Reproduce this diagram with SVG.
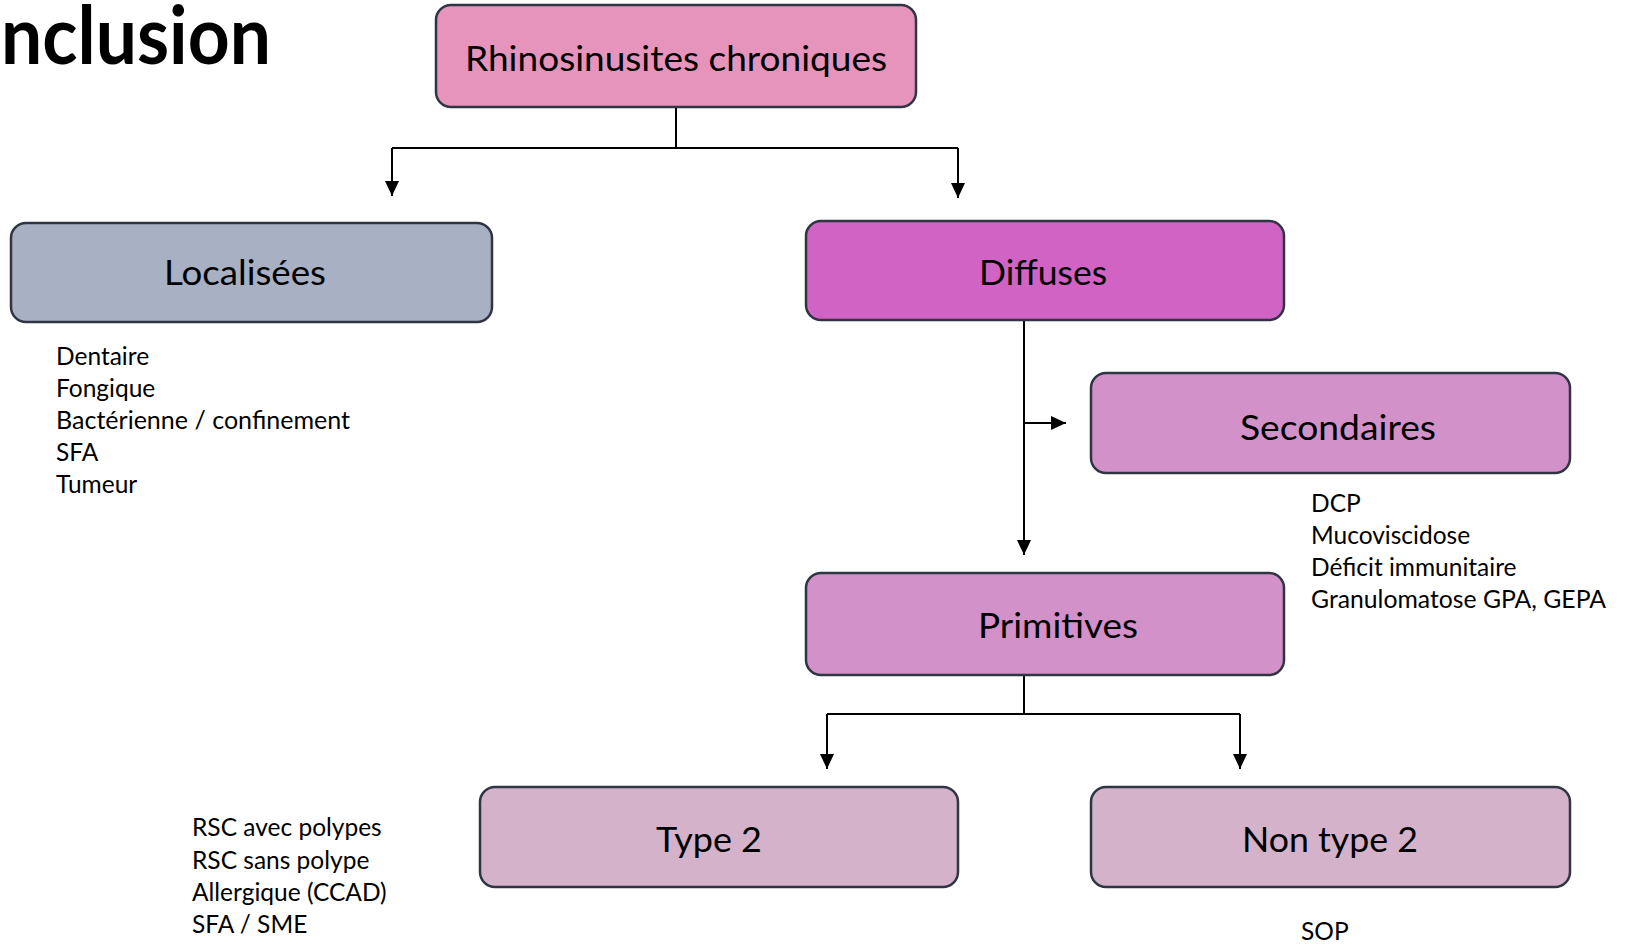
<svg xmlns="http://www.w3.org/2000/svg" width="1625" height="944" viewBox="0 0 1625 944">
<style>
.box{stroke:#2f3542;stroke-width:2.5}
.lbl{font-family:Lato,"Liberation Sans",sans-serif;font-size:34px;fill:#000;text-anchor:middle}
.lst{font-family:Lato,"Liberation Sans",sans-serif;font-size:24.5px;fill:#000}
.con{fill:none;stroke:#000;stroke-width:2}
.title{font-family:Lato,"Liberation Sans",sans-serif;font-size:80px;font-weight:bold;fill:#000}
</style>
<defs>
<marker id="arr" markerUnits="userSpaceOnUse" markerWidth="16" markerHeight="16" refX="15" refY="7" orient="auto">
<path d="M0,0 L15,7 L0,14 Z" fill="#000"/>
</marker>
</defs>
<rect width="1625" height="944" fill="#fff"/>
<text class="title" x="1" y="64" textLength="270" lengthAdjust="spacingAndGlyphs">nclusion</text>

<g id="connectors">
<path class="con" d="M676,107 V148"/>
<path class="con" d="M392,148 H958"/>
<path class="con" d="M392,148 V196" marker-end="url(#arr)"/>
<path class="con" d="M958,148 V198" marker-end="url(#arr)"/>
<path class="con" d="M1024,320 V555" marker-end="url(#arr)"/>
<path class="con" d="M1024,423 H1066" marker-end="url(#arr)"/>
<path class="con" d="M1024,675 V714"/>
<path class="con" d="M827,714 H1240"/>
<path class="con" d="M827,714 V769" marker-end="url(#arr)"/>
<path class="con" d="M1240,714 V769" marker-end="url(#arr)"/>
</g>

<g id="rhino">
<rect class="box" x="436" y="5" width="480" height="102" rx="15" fill="#e694bb"/>
<text class="lbl" x="676" y="71" textLength="422" lengthAdjust="spacingAndGlyphs">Rhinosinusites chroniques</text>
</g>

<g id="localisees">
<rect class="box" x="11" y="223" width="481" height="99" rx="15" fill="#a8b0c4"/>
<text class="lbl" x="245" y="285" textLength="162" lengthAdjust="spacingAndGlyphs">Localisées</text>
</g>
<g id="localisees-list">
<text class="lst" x="56" y="365">Dentaire</text>
<text class="lst" x="56" y="397">Fongique</text>
<text class="lst" x="56" y="429" textLength="294" lengthAdjust="spacingAndGlyphs">Bactérienne / confinement</text>
<text class="lst" x="56" y="461">SFA</text>
<text class="lst" x="56" y="493">Tumeur</text>
</g>

<g id="diffuses">
<rect class="box" x="806" y="221" width="478" height="99" rx="15" fill="#d063c3"/>
<text class="lbl" x="1043" y="285" textLength="128" lengthAdjust="spacingAndGlyphs">Diffuses</text>
</g>

<g id="secondaires">
<rect class="box" x="1091" y="373" width="479" height="100" rx="15" fill="#d391c9"/>
<text class="lbl" x="1338" y="440" textLength="196" lengthAdjust="spacingAndGlyphs">Secondaires</text>
</g>
<g id="secondaires-list">
<text class="lst" x="1311" y="512">DCP</text>
<text class="lst" x="1311" y="544">Mucoviscidose</text>
<text class="lst" x="1311" y="576">Déficit immunitaire</text>
<text class="lst" x="1311" y="608" textLength="295" lengthAdjust="spacingAndGlyphs">Granulomatose GPA, GEPA</text>
</g>

<g id="primitives">
<rect class="box" x="806" y="573" width="478" height="102" rx="15" fill="#d391c9"/>
<text class="lbl" x="1058" y="638" textLength="160" lengthAdjust="spacingAndGlyphs">Primitives</text>
</g>

<g id="type2">
<rect class="box" x="480" y="787" width="478" height="100" rx="15" fill="#d4b2c9"/>
<text class="lbl" x="709" y="852" textLength="106" lengthAdjust="spacingAndGlyphs">Type 2</text>
</g>
<g id="type2-list">
<text class="lst" x="192" y="836">RSC avec polypes</text>
<text class="lst" x="192" y="869">RSC sans polype</text>
<text class="lst" x="192" y="901">Allergique (CCAD)</text>
<text class="lst" x="192" y="933">SFA / SME</text>
</g>

<g id="nontype2">
<rect class="box" x="1091" y="787" width="479" height="100" rx="15" fill="#d4b2c9"/>
<text class="lbl" x="1330" y="852" textLength="176" lengthAdjust="spacingAndGlyphs">Non type 2</text>
</g>
<g id="nontype2-list">
<text class="lst" x="1301" y="940">SOP</text>
</g>
</svg>
